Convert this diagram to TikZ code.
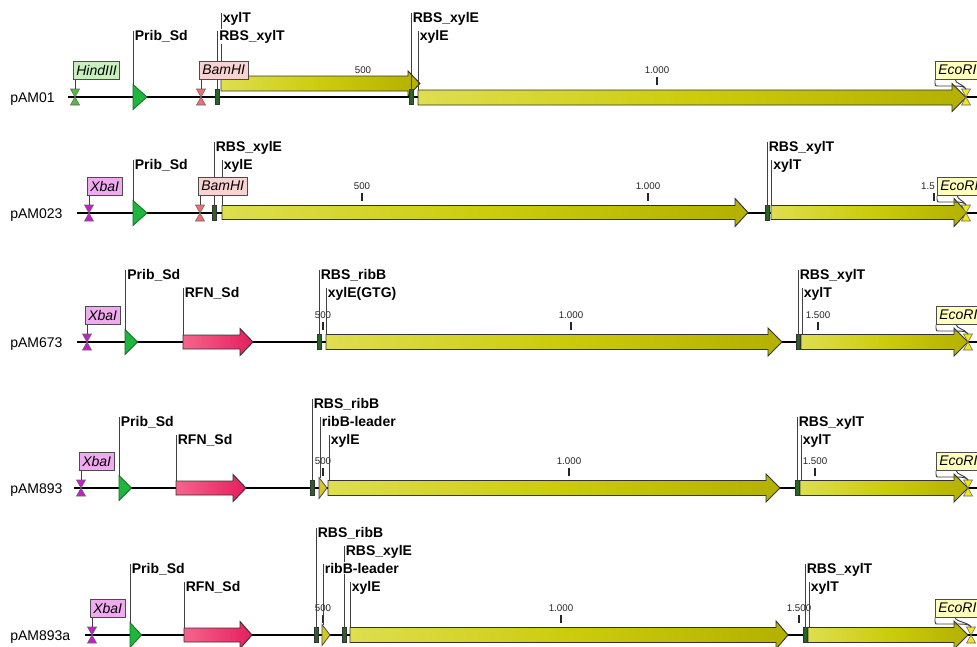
\documentclass[tikz,border=0pt]{standalone}
\usepackage{fontspec}
\setmainfont{Liberation Sans}
\pgfdeclarelayer{bg}\pgfdeclarelayer{lead}\pgfdeclarelayer{fg}
\pgfsetlayers{bg,main,lead,fg}
\definecolor{ylA}{RGB}{222,222,80}
\definecolor{ylB}{RGB}{204,204,12}
\definecolor{ylC}{RGB}{180,176,0}
\definecolor{rfA}{RGB}{246,100,140}
\definecolor{rfB}{RGB}{230,30,95}
\definecolor{prF}{RGB}{30,182,60}
\definecolor{prO}{RGB}{20,110,40}
\definecolor{rbsF}{RGB}{40,100,40}
\definecolor{rblF}{RGB}{212,200,40}
\definecolor{mkG}{RGB}{80,190,60}
\definecolor{mkR}{RGB}{240,110,110}
\definecolor{mkM}{RGB}{200,30,200}
\definecolor{mkY}{RGB}{240,230,30}
\definecolor{bxG}{RGB}{200,240,190}
\definecolor{bxR}{RGB}{250,210,210}
\definecolor{bxM}{RGB}{240,170,240}
\definecolor{bxY}{RGB}{255,255,190}
% backbone: name, xstart, B
\newcommand\bbone[3]{\begin{pgfonlayer}{bg}\coordinate (#1s) at (#2,#3);\coordinate (#1e) at (977,#3);\draw[backbone] (#1s) -- (#1e);\end{pgfonlayer}}
% row name: name, B, text
\newcommand\rname[3]{\node[rnm, anchor=base west] (#1) at (10,#2+5) {#3};}
% tick: name, x, B, text
\newcommand\tkmark[3]{\begin{pgfonlayer}{bg}\coordinate (#1a) at (#2,#3-20);\coordinate (#1b) at (#2,#3-12);\draw[tickline] (#1a) -- (#1b);\end{pgfonlayer}}
\newcommand\tk[4]{\tkmark{#1}{#2}{#3}\begin{pgfonlayer}{bg}\node[ticklab, anchor=base] (#1t) at (#2,#3-24) {#4};\end{pgfonlayer}}
% arrow: name, x1, x2, yc, hb, hh, hl, style
\newcommand\arr[8]{\path[#8] (#2,#4-#5) -- (#3-#7,#4-#5) -- (#3-#7,#4-#6) -- (#3,#4) -- (#3-#7,#4+#6) -- (#3-#7,#4+#5) -- (#2,#4+#5) -- cycle;\coordinate (#1) at (#2,#4-#5);}
% rbs: name, x, B
\newcommand\rbs[3]{\path[rbsbox] (#2-1.5,#3-7.5) rectangle (#2+2,#3+7.5);\coordinate (#1) at (#2,#3-7.5);}
% triangle: name, x, B, w, h, style
\newcommand\tri[6]{\path[#6] (#2,#3-#5) -- (#2+#4,#3) -- (#2,#3+#5) -- cycle;\coordinate (#1) at (#2,#3-#5);}
% feature label: name, x, topy, baseline, text
\newcommand\flab[5]{\coordinate (#1a) at (#2,#3);\coordinate (#1b) at (#2,#4-9);
 \begin{pgfonlayer}{lead}\draw[leader] (#1a) -- (#1b);\end{pgfonlayer}
 \begin{pgfonlayer}{fg}\node[flabel, anchor=base west] (#1) at (#2+0.8,#4) {#5};\end{pgfonlayer}}
% enzyme marker: name, x, B, colour
\newcommand\enzmark[4]{\path[marker, fill=#4] (#2-4.5,#3-8) -- (#2+4.5,#3-8) -- (#2,#3) -- cycle;
 \path[marker, fill=#4] (#2-4.5,#3+8) -- (#2+4.5,#3+8) -- (#2,#3) -- cycle;
 \coordinate (#1m) at (#2,#3-8);}
% enzyme: name, x, B, marker colour, box left, box fill, text
\newcommand\enz[7]{\enzmark{#1}{#2}{#3}{#4}
 \begin{pgfonlayer}{fg}\node[ebox, fill=#6, anchor=south west] (#1) at (#5,#3-17.5) {#7};\end{pgfonlayer}
 \begin{pgfonlayer}{lead}\draw[leader] (#1.south west -| #1m) -- (#1m);\end{pgfonlayer}}
% EcoRI: name, x, B, box left
\newcommand\eco[4]{\enzmark{#1}{#2}{#3}{mkY}
 \begin{pgfonlayer}{fg}\node[ebox, fill=bxY, anchor=south west] (#1) at (#4,#3-17.5) {EcoRI};\end{pgfonlayer}
 \begin{pgfonlayer}{lead}\draw[leader] (#1.south west) -- (#4,#3-14) .. controls (#4,#3-11) .. (#4+4,#3-11) -- (#2-12,#3-11) .. controls (#2-5,#3-11) and (#2-1.5,#3-10.5) .. (#1m);
 \draw[leader] (#4+20,#3-17.5) .. controls (#4+21,#3-13) and (#2-3,#3-13) .. (#1m);\end{pgfonlayer}}
\begin{document}
\begin{tikzpicture}[x=0.75pt,y=-0.75pt,
 backbone/.style={line width=1.5pt, black},
 tickline/.style={line width=1.1pt, black!85},
 ticklab/.style={font=\fontsize{7.3}{8}\selectfont, inner sep=0pt, text=black!85},
 leader/.style={line width=0.7pt, draw=black!75},
 flabel/.style={font=\bfseries\fontsize{10.5}{12}\selectfont, fill=white, inner sep=0.6pt},
 rnm/.style={font=\fontsize{10.5}{12}\selectfont, inner sep=0pt},
 ebox/.style={draw=black!70, line width=0.6pt, font=\itshape\fontsize{10.5}{12}\selectfont, inner xsep=2.2pt, inner ysep=0pt, minimum height=13.5pt},
 marker/.style={draw=black!60, line width=0.4pt},
 ylarrow/.style={draw=black!80, line width=0.7pt, left color=ylA, right color=ylC, middle color=ylB},
 rfnarrow/.style={draw=black!80, line width=0.7pt, left color=rfA, right color=rfB},
 promo/.style={draw=prO, line width=0.6pt, fill=prF},
 ribl/.style={draw=black!70, line width=0.6pt, fill=rblF},
 rbsbox/.style={draw=black!80, line width=0.5pt, fill=rbsF}]
\useasboundingbox (0,0) rectangle (977,646);
\begin{pgfonlayer}{bg}\fill[white] (0,0) rectangle (977,646);\end{pgfonlayer}
% ---------------- Row 1: pAM01
\bbone{bb1}{68}{97}
\rname{n1}{97}{pAM01}
\tk{t1a}{363}{97}{500}\tk{t1b}{657}{97}{1.000}
\arr{a1a}{221}{420}{83.5}{7.5}{12.5}{12}{ylarrow}
\arr{a1b}{418}{966}{97.5}{7.5}{14}{14}{ylarrow}
\rbs{r1a}{217}{97}\rbs{r1b}{411}{97}
\tri{p1}{133}{97}{14}{12.5}{promo}
\enz{e1a}{75}{97}{mkG}{73}{bxG}{HindIII}
\enz{e1b}{201}{97}{mkR}{199}{bxR}{BamHI}
\eco{e1c}{966}{97}{935}
\flab{l1a}{133}{84.5}{40}{Prib\_Sd}
\flab{l1b}{217.5}{89.5}{40}{RBS\_xylT}
\flab{l1c}{221}{76}{22}{xylT}
\flab{l1d}{411}{89.5}{22}{RBS\_xylE}
\flab{l1e}{418}{90}{40}{xylE}
% ---------------- Row 2: pAM023
\bbone{bb2}{77}{213}
\rname{n2}{213}{pAM023}
\tk{t2a}{362}{213}{500}\tk{t2b}{648}{213}{1.000}\tkmark{t2c}{934}{213}
\begin{pgfonlayer}{bg}\node[ticklab, anchor=base east] (t2ct) at (935,189) {1.5};\end{pgfonlayer}
\arr{a2a}{222}{748}{212.5}{7}{14}{13}{ylarrow}
\arr{a2b}{771}{967}{212.5}{7}{14}{13}{ylarrow}
\rbs{r2a}{214}{213}\rbs{r2b}{767}{213}
\tri{p2}{133}{213}{14}{12.5}{promo}
\enz{e2a}{89}{213}{mkM}{87}{bxM}{XbaI}
\enz{e2b}{200}{213}{mkR}{198}{bxR}{BamHI}
\eco{e2c}{966}{213}{937}
\flab{l2a}{133}{200.5}{169}{Prib\_Sd}
\flab{l2b}{214}{205.5}{151}{RBS\_xylE}
\flab{l2c}{222}{205.5}{169}{xylE}
\flab{l2d}{767}{205.5}{151}{RBS\_xylT}
\flab{l2e}{771.5}{205.5}{169}{xylT}
% ---------------- Row 3: pAM673
\bbone{bb3}{77}{342}
\rname{n3}{342}{pAM673}
\tk{t3a}{323}{342}{500}\tk{t3b}{571}{342}{1.000}\tk{t3c}{818}{342}{1.500}
\arr{f3}{183}{253}{342}{7}{13.5}{13}{rfnarrow}
\arr{a3a}{326}{782}{342}{7.5}{14}{14}{ylarrow}
\arr{a3b}{801}{968}{342}{7.5}{14}{14}{ylarrow}
\rbs{r3a}{319}{342}\rbs{r3b}{798}{342}
\tri{p3}{125}{342}{12.5}{12.5}{promo}
\enz{e3a}{87}{342}{mkM}{85}{bxM}{XbaI}
\eco{e3c}{968}{342}{936}
\flab{l3a}{125.5}{329.5}{279}{Prib\_Sd}
\flab{l3b}{183}{335}{297}{RFN\_Sd}
\flab{l3c}{319}{334.5}{279}{RBS\_ribB}
\flab{l3d}{326}{334.5}{297}{xylE(GTG)}
\flab{l3e}{798}{334.5}{279}{RBS\_xylT}
\flab{l3f}{802}{334.5}{297}{xylT}
% ---------------- Row 4: pAM893
\bbone{bb4}{74}{488}
\rname{n4}{488}{pAM893}
\tk{t4a}{323}{488}{500}\tk{t4b}{569}{488}{1.000}\tk{t4c}{815}{488}{1.500}
\arr{f4}{176}{246}{488}{7}{13.5}{13}{rfnarrow}
\arr{a4a}{328}{780}{488}{7.5}{14}{14}{ylarrow}
\arr{a4b}{800}{968}{488}{7.5}{14}{14}{ylarrow}
\tri{q4}{319}{488}{8}{10.5}{ribl}
\rbs{r4a}{312}{488}\rbs{r4b}{797}{488}
\tri{p4}{119}{488}{12.5}{12.5}{promo}
\enz{e4a}{81}{488}{mkM}{79}{bxM}{XbaI}
\eco{e4c}{968}{488}{936}
\flab{l4a}{119}{475.5}{426}{Prib\_Sd}
\flab{l4b}{176}{481}{444}{RFN\_Sd}
\flab{l4c}{312}{480.5}{408}{RBS\_ribB}
\flab{l4d}{320}{478}{426}{ribB-leader}
\flab{l4e}{329}{480.5}{444}{xylE}
\flab{l4f}{797}{480.5}{426}{RBS\_xylT}
\flab{l4g}{801}{480.5}{444}{xylT}
% ---------------- Row 5: pAM893a
\bbone{bb5}{85}{635}
\rname{n5}{635}{pAM893a}
\tk{t5a}{323}{635}{500}\tk{t5b}{561}{635}{1.000}\tk{t5c}{799}{635}{1.500}
\arr{f5}{184}{252}{635}{7}{13.5}{12}{rfnarrow}
\arr{a5a}{350}{788}{635}{7.5}{14}{12}{ylarrow}
\arr{a5b}{808}{968}{635}{7.5}{14}{14}{ylarrow}
\tri{q5}{322}{635}{8}{10.5}{ribl}
\rbs{r5a}{316}{635}\rbs{r5b}{344}{635}\rbs{r5c}{805}{635}
\tri{p5}{130}{635}{11.5}{12.5}{promo}
\enz{e5a}{92}{635}{mkM}{90}{bxM}{XbaI}
\eco{e5c}{971}{635}{935}
\flab{l5a}{316}{627.5}{537}{RBS\_ribB}
\flab{l5b}{344}{627.5}{555}{RBS\_xylE}
\flab{l5c}{130}{622.5}{573}{Prib\_Sd}
\flab{l5d}{323}{625}{573}{ribB-leader}
\flab{l5e}{184}{628}{591}{RFN\_Sd}
\flab{l5f}{350}{627.5}{591}{xylE}
\flab{l5g}{805}{627.5}{573}{RBS\_xylT}
\flab{l5h}{809}{627.5}{591}{xylT}
\end{tikzpicture}
\end{document}
